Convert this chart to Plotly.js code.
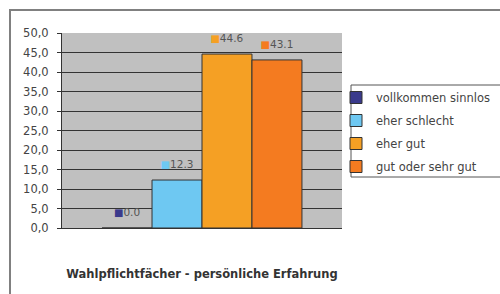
<!DOCTYPE html>
<html>
<head>
<meta charset="utf-8">
<script src="https://cdn.plot.ly/plotly-3.0.1.min.js"></script>
<style>html,body{margin:0;padding:0;background:#fff;}#chart{width:500px;height:294px;}</style>
</head>
<body>
<div id="chart"></div>
<script>
const category = [""];
const seriesNames = ["vollkommen sinnlos", "eher schlecht", "eher gut", "gut oder sehr gut"];
const seriesValues = [0.0, 12.3, 44.6, 43.1];
const seriesColors = ["#3a3a8c", "#6ec8f2", "#f5a024", "#f47b20"];
const yTicks = [0, 5, 10, 15, 20, 25, 30, 35, 40, 45, 50];
const chartTitle = "Wahlpflichtfächer - persönliche Erfahrung";

const FONT = "DejaVu Sans, Verdana, sans-serif";

const traces = seriesNames.map((name, i) => ({
  type: "bar",
  name: name,
  x: category,
  y: [seriesValues[i]],
  legendgroup: "g" + i,
  marker: {color: seriesColors[i], line: {color: "#333333", width: 1}},
  text: ['<span style="font-size:10px;color:' + seriesColors[i] + '">■</span>' +
         '<span style="font-size:10.5px">' + seriesValues[i].toFixed(1) + '</span><br> '],
  textposition: "outside",
  cliponaxis: false,
  textfont: {family: FONT, size: 6, color: "#555555"},
  hoverinfo: "none"
}));

const layout = {
  width: 500, height: 294,
  margin: {l: 62, r: 158, t: 33, b: 66, autoexpand: false},
  paper_bgcolor: "#ffffff",
  plot_bgcolor: "#c0c0c0",
  separators: ",.",
  barmode: "group",
  bargap: 0.286,
  bargroupgap: 0,
  showlegend: true,
  font: {family: FONT, color: "#444444"},
  title: {
    text: "<b>" + chartTitle + "</b>",
    x: 202 / 500, xanchor: "center", xref: "container",
    y: 1 - 274 / 294, yanchor: "middle", yref: "container",
    font: {family: FONT, size: 11.5, color: "#333333"}
  },
  xaxis: {
    showticklabels: false, ticks: "", showgrid: false,
    showline: true, linecolor: "#333333", linewidth: 1,
    fixedrange: true
  },
  yaxis: {
    range: [0, 50], tickvals: yTicks, tickformat: ".1f",
    ticks: "outside", ticklen: 4, tickcolor: "#333333",
    ticklabelstandoff: 6,
    showline: true, linecolor: "#333333", linewidth: 1,
    showgrid: false,
    minor: {tickvals: yTicks.slice(1, -1), showgrid: true, gridcolor: "#333333", gridwidth: 1, ticks: ""},
    zeroline: false,
    tickfont: {family: FONT, size: 11.5, color: "#444444"},
    fixedrange: true
  },
  legend: {
    x: (336 - 62) / 280, xanchor: "left",
    y: (228 - 83) / 195, yanchor: "top",
    bgcolor: "rgba(0,0,0,0)", borderwidth: 0,
    tracegroupgap: 4,
    font: {family: FONT, size: 11.5, color: "#444444"},
    traceorder: "grouped"
  },
  shapes: [
    {type: "rect", xref: "paper", yref: "paper",
     x0: (10 - 62) / 280, x1: 1.8, y0: -0.5, y1: (228 - 10) / 195,
     line: {color: "#808080", width: 2}, fillcolor: "rgba(0,0,0,0)", layer: "below"},
    {type: "rect", xref: "paper", yref: "paper",
     x0: (351 - 62) / 280, x1: 1.8, y0: (228 - 177) / 195, y1: (228 - 85) / 195,
     line: {color: "#555555", width: 1}, fillcolor: "#ffffff", layer: "below"}
  ]
};

Plotly.newPlot("chart", traces, layout, {displayModeBar: false, staticPlot: true});
</script>
</body>
</html>
